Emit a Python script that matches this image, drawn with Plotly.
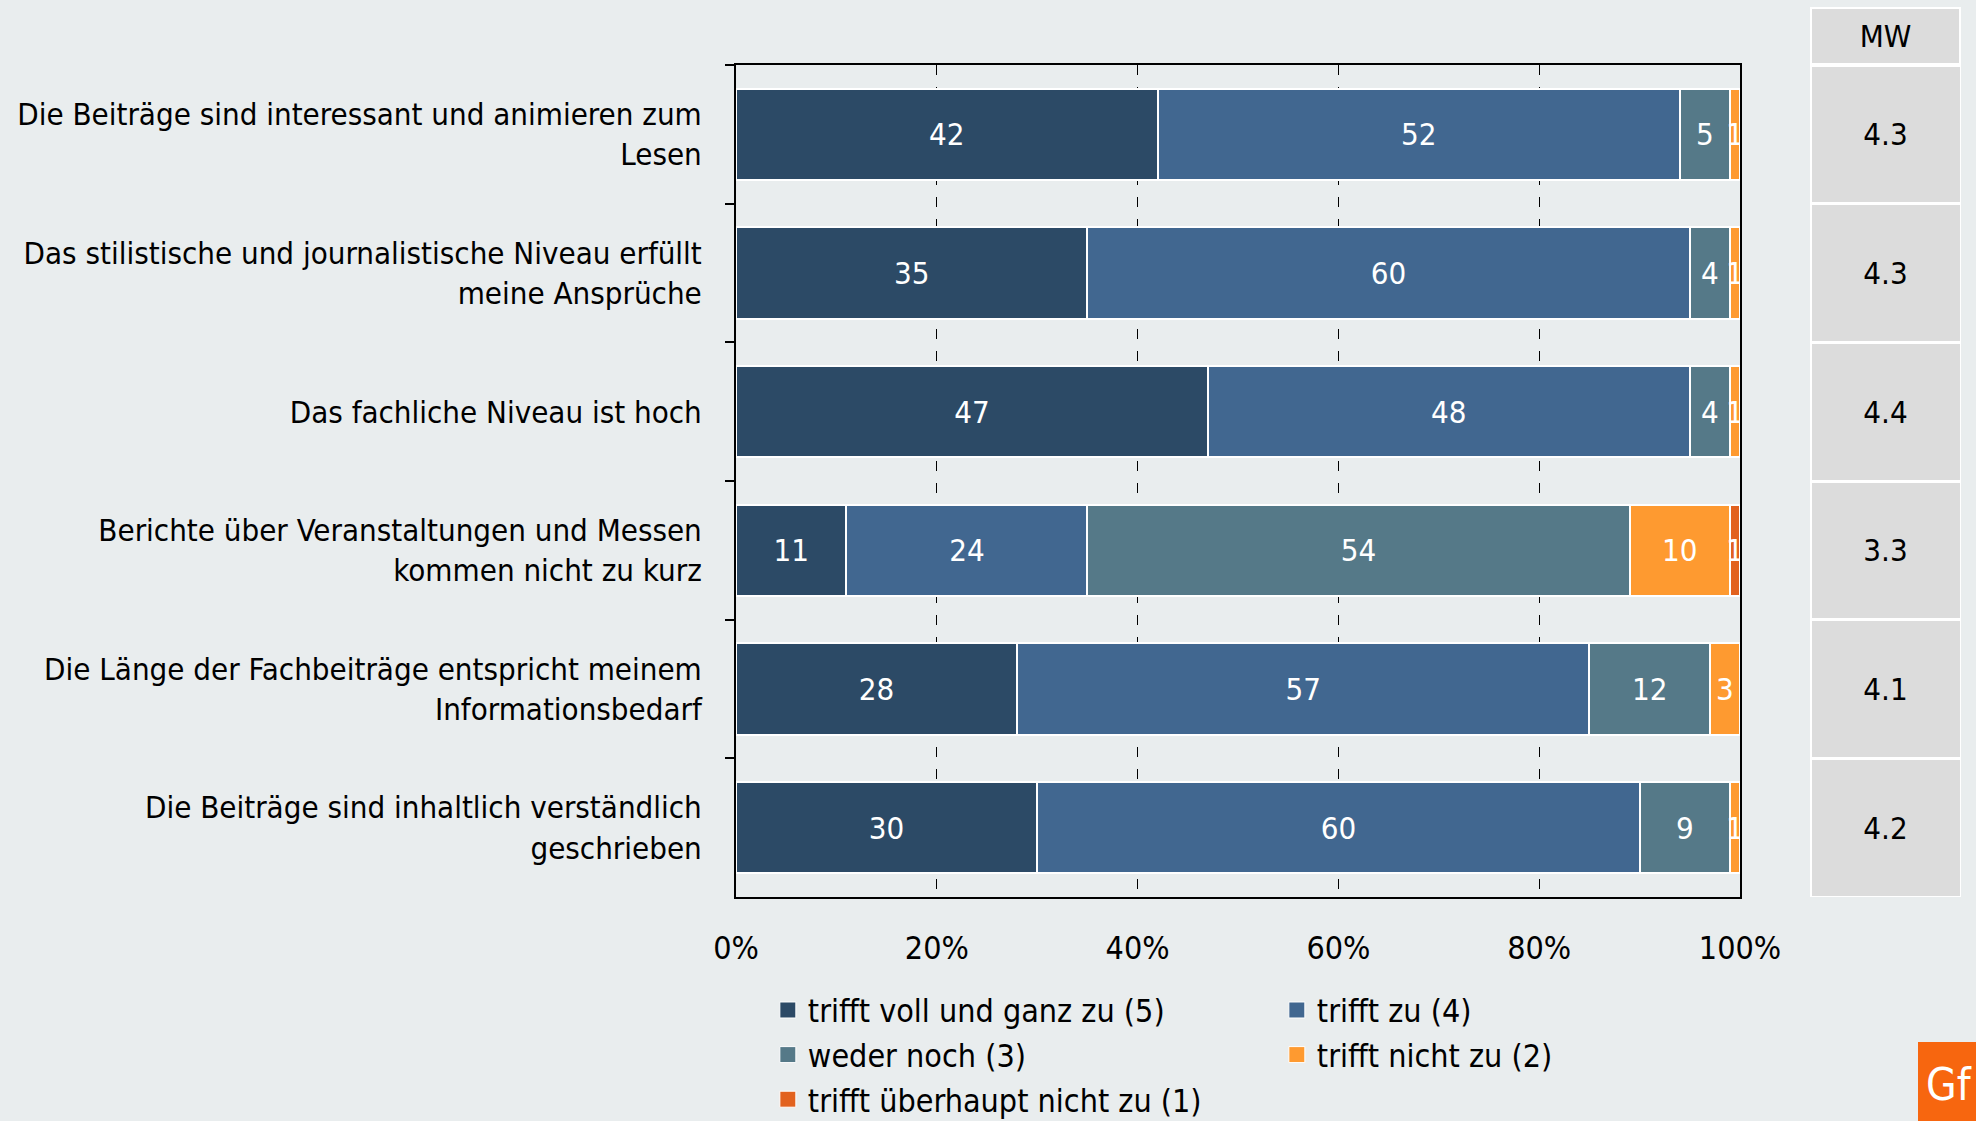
import plotly.graph_objects as go

categories = [
    "Die Beiträge sind interessant und animieren zum<br>Lesen",
    "Das stilistische und journalistische Niveau erfüllt<br>meine Ansprüche",
    "Das fachliche Niveau ist hoch",
    "Berichte über Veranstaltungen und Messen<br>kommen nicht zu kurz",
    "Die Länge der Fachbeiträge entspricht meinem<br>Informationsbedarf",
    "Die Beiträge sind inhaltlich verständlich<br>geschrieben",
]
series_names = [
    "trifft voll und ganz zu (5)",
    "trifft zu (4)",
    "weder noch (3)",
    "trifft nicht zu (2)",
    "trifft überhaupt nicht zu (1)",
]
v5 = [42, 35, 47, 11, 28, 30]
v4 = [52, 60, 48, 24, 57, 60]
v3 = [5, 4, 4, 54, 12, 9]
v2 = [1, 1, 1, 10, 3, 1]
v1 = [0, 0, 0, 1, 0, 0]
mw_values = [4.3, 4.3, 4.4, 3.3, 4.1, 4.2]
x_ticks = [0, 20, 40, 60, 80, 100]

colors = ["#2C4A66", "#416790", "#557988", "#FE9A30", "#E2621F"]
FONT = "DejaVu Sans Condensed, Liberation Sans, sans-serif"
FS = 31
BG = "#E9EDEE"

fig = go.Figure()
for name, vals, col in zip(series_names, [v5, v4, v3, v2, v1], colors):
    fig.add_trace(go.Bar(
        y=categories, x=vals, name=name, orientation="h",
        marker=dict(color=col, line=dict(color="white", width=2)),
        text=[str(v) if v else "" for v in vals],
        textposition="inside", insidetextanchor="middle",
        constraintext="none",
        textfont=dict(color="white", size=FS, family=FONT),
        xaxis="x", yaxis="y", showlegend=False,
    ))
    # legend proxy (square swatch)
    fig.add_trace(go.Scatter(
        x=[None], y=[None], mode="markers", name=name,
        marker=dict(symbol="square", size=16, color=col,
                    line=dict(color="white", width=1)),
        xaxis="x", yaxis="y", showlegend=True, hoverinfo="skip",
    ))

# MW column
fig.add_trace(go.Bar(
    y=categories, x=[1] * len(categories), orientation="h",
    marker=dict(color="#DCDCDC", line=dict(color="white", width=3)),
    text=[f"{v:.1f}" for v in mw_values],
    textposition="inside", insidetextanchor="middle", constraintext="none",
    textfont=dict(color="black", size=FS, family=FONT),
    width=1, showlegend=False, xaxis="x2", yaxis="y2", hoverinfo="skip",
))

L, R, T, B = 736, 15, 65, 224
W, H = 1976, 1121
pw = W - L - R
ph = H - T - B
d1 = (1740 - L) / pw
d2 = (1810 - L) / pw

fig.update_layout(
    width=W, height=H,
    margin=dict(l=L, r=R, t=T, b=B, pad=0, autoexpand=False),
    paper_bgcolor=BG, plot_bgcolor=BG,
    barmode="stack", bargap=0.34,
    font=dict(family=FONT, size=FS, color="black"),
    xaxis=dict(
        domain=[0, d1], range=[0, 100], tickvals=x_ticks,
        ticktext=[f"{t}%" for t in x_ticks],
        showgrid=True, gridcolor="black", gridwidth=1, griddash="10px,12px",
        showline=True, linecolor="black", linewidth=2, mirror=True,
        ticks="", zeroline=False, ticklabelstandoff=22, automargin=False,
        tickfont=dict(size=32, family=FONT),
        anchor="y",
    ),
    yaxis=dict(
        autorange="reversed", type="category", tickson="boundaries",
        ticks="outside", ticklen=9, tickcolor="black", tickwidth=2,
        showline=True, linecolor="black", linewidth=2, mirror=True,
        showgrid=False, ticklabelstandoff=26, automargin=False,
        tickfont=dict(size=FS, family=FONT),
        anchor="x",
    ),
    xaxis2=dict(domain=[d2, 1], range=[0, 1], showgrid=False, showline=False,
                showticklabels=False, zeroline=False, anchor="y2"),
    yaxis2=dict(autorange="reversed", type="category", showgrid=False,
                showline=False, showticklabels=False, anchor="x2", matches="y"),
    legend=dict(
        orientation="h", x=0.026, xanchor="left", y=-0.103, yanchor="top",
        entrywidth=464, entrywidthmode="pixels", traceorder="normal",
        itemsizing="trace",
        font=dict(size=32, family=FONT), bgcolor="rgba(0,0,0,0)",
    ),
)

# MW header
fig.add_annotation(
    xref="paper", yref="paper", x=(d2 + 1) / 2, y=1 + (T - 36) / ph,
    text="MW", showarrow=False, xanchor="center", yanchor="middle",
    width=147, height=54, bgcolor="#DCDCDC", bordercolor="white",
    borderwidth=2, borderpad=0, font=dict(size=FS, family=FONT, color="black"),
)

# Logo
fig.add_shape(type="rect", xref="paper", yref="paper",
              x0=(1918 - L) / pw, x1=(W - L) / pw + 0.01,
              y0=-B / ph - 0.02, y1=-(1042 - (H - B)) / ph,
              fillcolor="#F7660F", line=dict(width=0), layer="above")
fig.add_annotation(xref="paper", yref="paper", x=(1924 - L) / pw,
                   y=-(1084 - (H - B)) / ph, text="Gf", showarrow=False,
                   xanchor="left", yanchor="middle",
                   font=dict(size=44, family=FONT, color="white"))

fig.write_html(
    "out.html",
    config={"displayModeBar": False},
    post_script="document.body.style.margin='0';document.body.style.padding='0';"
                "document.body.style.overflow='hidden';"
                "document.documentElement.style.overflow='hidden';",
)
